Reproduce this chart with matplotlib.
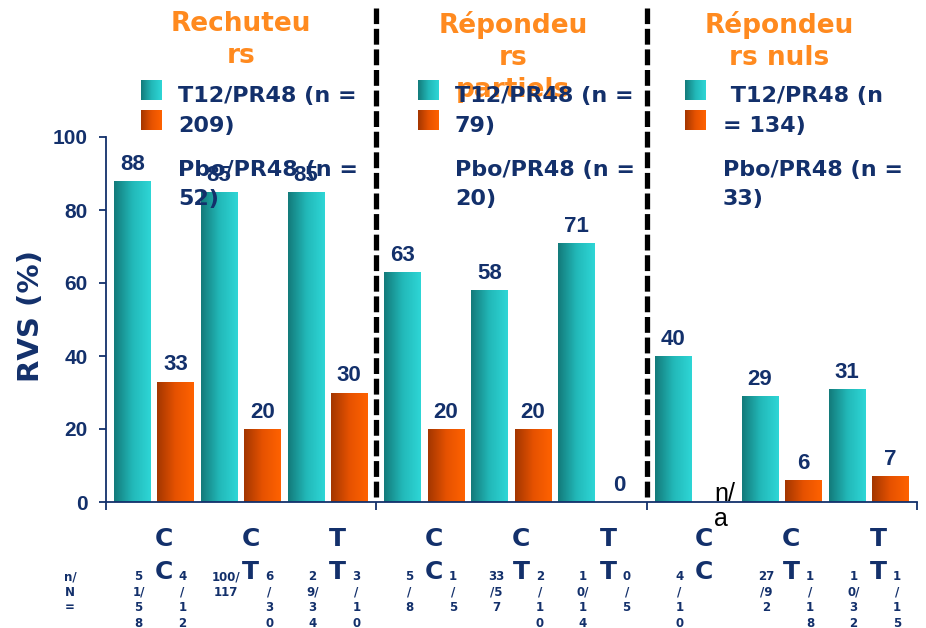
import numpy as np
import matplotlib
matplotlib.use("Agg")
import matplotlib.pyplot as plt
from matplotlib.colors import LinearSegmentedColormap

plt.rcParams["font.family"] = ["DejaVu Sans"]

# ---- data -------------------------------------------------------------
panel_titles = ["Rechuteu\nrs", "Répondeu\nrs\npartiels", "Répondeu\nrs nuls"]
combo_labels = ["C\nC", "C\nT", "T\nT", "C\nC", "C\nT", "T\nT", "C\nC", "C\nT", "T\nT"]
t12_values = [88, 85, 85, 63, 58, 71, 40, 29, 31]
pbo_values = [33, 20, 30, 20, 20, 0, np.nan, 6, 7]
pbo_missing_label = "n/\na"
t12_nN = ["5\n1/\n5\n8", "100/\n117", "2\n9/\n3\n4",
          "5\n/\n8", "33\n/5\n7", "1\n0/\n1\n4",
          "4\n/\n1\n0", "27\n/9\n2", "1\n0/\n3\n2"]
pbo_nN = ["4\n/\n1\n2", "6\n/\n3\n0", "3\n/\n1\n0",
          "1\n/\n5", "2\n/\n1\n0", "0\n/\n5",
          "", "1\n/\n1\n8", "1\n/\n1\n5"]
legend_t12 = ["T12/PR48 (n =\n209)", "T12/PR48 (n =\n79)", " T12/PR48 (n\n= 134)"]
legend_pbo = ["Pbo/PR48 (n =\n52)", "Pbo/PR48 (n =\n20)", "Pbo/PR48 (n =\n33)"]
nN_caption = "n/\nN\n="
y_ticks = [0, 20, 40, 60, 80, 100]

# ---- style ------------------------------------------------------------
NAVY = "#13306b"
ORANGE_TXT = "#ff8a1f"
teal_cmap = LinearSegmentedColormap.from_list("teal", ["#137a7a", "#22b8b8", "#2ed6d6"])
orange_cmap = LinearSegmentedColormap.from_list("orng", ["#a33600", "#e65200", "#ff6200"])
NUM_FONT = ["Liberation Sans", "DejaVu Sans"]

W, H = 926, 628
fig = plt.figure(figsize=(W / 100, H / 100), dpi=100)
ax_l, ax_r, ax_t, ax_b = 106, 917, 137, 502
ax = fig.add_axes([ax_l / W, 1 - ax_b / H, (ax_r - ax_l) / W, (ax_b - ax_t) / H])


def px_to_axfrac(y_px):
    return (ax_b - y_px) / (ax_b - ax_t)


# bar positions: three panels of three groups
bar_w = 0.40
teal_x = np.array([p * 3 + 0.29 + j * 0.965 for p in range(3) for j in range(3)])
orange_x = teal_x + 0.48
label_x = teal_x + 0.35

grad = np.linspace(0, 1, 128).reshape(1, -1)


def gradient_fill(bar, cmap):
    x0, y0 = bar.get_xy()
    im = ax.imshow(grad, extent=[x0, x0 + bar.get_width(), y0, y0 + bar.get_height()],
                   aspect="auto", cmap=cmap, origin="lower", zorder=2,
                   interpolation="bicubic")
    im.set_clip_path(bar)


teal_bars = ax.bar(teal_x, t12_values, width=bar_w, color="#22b8b8", zorder=1, linewidth=0)
for b in teal_bars:
    gradient_fill(b, teal_cmap)

pbo_arr = np.array(pbo_values, dtype=float)
ok = ~np.isnan(pbo_arr)
orange_bars = ax.bar(orange_x[ok], pbo_arr[ok], width=bar_w, color="#e65200", zorder=1, linewidth=0)
for b in orange_bars:
    gradient_fill(b, orange_cmap)

# value labels
for x, v in zip(teal_x, t12_values):
    ax.annotate(f"{v:g}", (x, v), xytext=(0, 8), textcoords="offset points",
                ha="center", va="baseline", fontsize=16, fontweight="bold",
                color=NAVY, family=NUM_FONT, zorder=5)
for x, v in zip(orange_x, pbo_values):
    if np.isnan(v):
        ax.annotate(pbo_missing_label, (x, 0), xytext=(6, -3), textcoords="offset points",
                    ha="center", va="center", multialignment="left", fontsize=18,
                    color="black", family=NUM_FONT,
                    linespacing=1.05, zorder=5, annotation_clip=False)
    else:
        ax.annotate(f"{v:g}", (x, v), xytext=(0, 8), textcoords="offset points",
                    ha="center", va="baseline", fontsize=16, fontweight="bold",
                    color=NAVY, family=NUM_FONT, zorder=5)

# axes styling
ax.set_xlim(0, 9)
ax.set_ylim(0, 100)
for s in ("top", "right"):
    ax.spines[s].set_visible(False)
for s in ("left", "bottom"):
    ax.spines[s].set_color(NAVY)
    ax.spines[s].set_linewidth(1.3)
ax.set_yticks(y_ticks)
ax.tick_params(axis="y", direction="out", length=5, width=1.3, color=NAVY,
               labelcolor=NAVY, labelsize=15, pad=8)
for lab in ax.get_yticklabels():
    lab.set_fontweight("bold")
    lab.set_family(NUM_FONT)
ax.set_xticks([0, 3, 6, 9])
ax.set_xticklabels([])
ax.tick_params(axis="x", direction="out", length=6, width=1.3, color=NAVY)
ax.set_ylabel("RVS (%)", fontsize=21, fontweight="bold", color=NAVY)
ax.yaxis.set_label_coords(-0.075, 0.51)

# panel separators
xt = ax.get_xaxis_transform()
for xs in (3, 6):
    ax.plot([xs, xs], [px_to_axfrac(497), px_to_axfrac(8)], transform=xt,
            color="black", linewidth=3.8, linestyle=(0, (3.0, 0.9)),
            clip_on=False, zorder=6)

# category labels under the axis
for i, x in enumerate(label_x):
    ax.text(x, px_to_axfrac(527), combo_labels[i], transform=xt, ha="center", va="top",
            fontsize=18, fontweight="bold", color=NAVY, linespacing=1.45)
    ax.annotate(t12_nN[i], (x, px_to_axfrac(570)), xycoords=xt, xytext=(-18, 0),
                textcoords="offset points", ha="center", va="top", fontsize=8.5,
                fontweight="bold", color=NAVY, linespacing=1.26, annotation_clip=False)
    if pbo_nN[i]:
        ax.annotate(pbo_nN[i], (x, px_to_axfrac(570)), xycoords=xt, xytext=(13.5, 0),
                    textcoords="offset points", ha="center", va="top", fontsize=8.5,
                    fontweight="bold", color=NAVY, linespacing=1.26, annotation_clip=False)
fig.text(70 / W, 1 - 570 / H, nN_caption, ha="center", va="top", fontsize=8.5,
         fontweight="bold", color=NAVY, linespacing=1.26)

# panel titles and legends
title_cx = [241, 513, 779]
swatch_x = [141, 418, 685]
text_x = [178, 455, 723]
for p in range(3):
    fig.text(title_cx[p] / W, 1 - 11 / H, panel_titles[p], ha="center", va="top",
             fontsize=19, fontweight="bold", color=ORANGE_TXT, linespacing=1.29, zorder=1)
    for (y0, cmap) in ((80, teal_cmap), (110, orange_cmap)):
        sw = fig.add_axes([swatch_x[p] / W, 1 - (y0 + 20) / H, 21 / W, 20 / H])
        sw.imshow(grad, aspect="auto", cmap=cmap, interpolation="bicubic")
        sw.set_axis_off()
    fig.text(text_x[p] / W, 1 - 86 / H, legend_t12[p], ha="left", va="top",
             fontsize=16, fontweight="bold", color=NAVY, linespacing=1.6, zorder=3)
    fig.text(text_x[p] / W, 1 - 160 / H, legend_pbo[p], ha="left", va="top",
             fontsize=16, fontweight="bold", color=NAVY, linespacing=1.55, zorder=3)

fig.savefig("out.png", dpi=100)
